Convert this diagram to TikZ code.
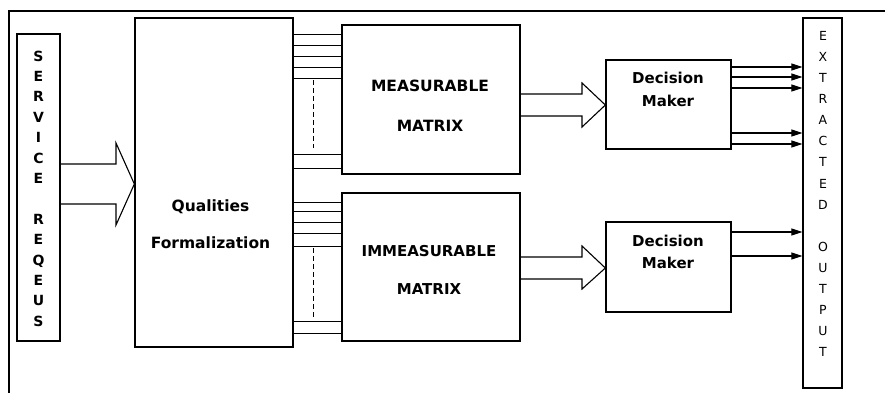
\documentclass[tikz,border=0pt]{standalone}
\usepackage{fontspec}
\setmainfont{DejaVu Sans}
\usetikzlibrary{arrows.meta}
\begin{document}
\begin{tikzpicture}[x=1pt,y=-1pt,
  box/.style={draw,line width=1.3pt,inner sep=0pt},
  wire/.style={draw,line width=1pt},
  blockarrow/.style={draw,line width=1.1pt,line join=miter},
  outarrow/.style={draw,line width=1.1pt,-{Triangle[length=11pt,width=7pt]}},
  frame/.style={draw,line width=1.3pt},
  bold/.style={inner sep=0pt,align=center},
]
\useasboundingbox (0,0) rectangle (885,392);
\clip (0,0) rectangle (885,392);
\fill[white] (0,0) rectangle (885,392);
% outer frame
\draw[frame] (9,400) -- (9,11) -- (900,11);

% boxes
\node[box,minimum width=43,minimum height=307] (svc) at (38.5,187.5) {};
\node[box,minimum width=158,minimum height=329] (qf) at (214,182.5) {};
\node[box,minimum width=178,minimum height=149] (mm) at (431,99.5) {};
\node[box,minimum width=178,minimum height=148] (im) at (431,267) {};
\node[box,minimum width=125,minimum height=89] (dm1) at (668.5,104.5) {};
\node[box,minimum width=125,minimum height=90] (dm2) at (668.5,267) {};
\node[box,minimum width=39,minimum height=370] (out) at (822.5,203) {};

% texts
\node[bold,font=\bfseries\fontsize{14}{20.4}\selectfont] (svctext) at (38.5,188.5)
  {S\\E\\R\\V\\I\\C\\E\\ \\R\\E\\Q\\E\\U\\S};
\node[bold,font=\bfseries\fontsize{15.5}{37}\selectfont] (qftext) at (210.5,224.5)
  {Qualities\\Formalization};
\node[bold,font=\bfseries\fontsize{15.5}{40}\selectfont] (mmtext) at (430,106)
  {MEASURABLE\\MATRIX};
\node[bold,font=\bfseries\fontsize{15}{38}\selectfont] (imtext) at (429,270)
  {IMMEASURABLE\\MATRIX};
\node[bold,font=\bfseries\fontsize{15}{23}\selectfont] (dm1text) at (668,89.5)
  {Decision\\Maker};
\node[bold,font=\bfseries\fontsize{15}{22}\selectfont] (dm2text) at (668,252)
  {Decision\\Maker};
\node[bold,font=\fontsize{12.5}{21.1}\selectfont] (outtext) at (823,194)
  {E\\X\\T\\R\\A\\C\\T\\E\\D\\ \\O\\U\\T\\P\\U\\T};

% block arrows
\draw[blockarrow] (svc.east |- 0,164) -- (116,164) -- (116,143) -- (qf.west |- 0,184)
  -- (116,225) -- (116,204) -- (svc.east |- 0,204);
\draw[blockarrow] (mm.east |- 0,94) -- (582,94) -- (582,83) -- (dm1.west |- 0,105)
  -- (582,127) -- (582,116) -- (mm.east |- 0,116);
\draw[blockarrow] (im.east |- 0,257) -- (582,257) -- (582,246) -- (dm2.west |- 0,268)
  -- (582,289) -- (582,279) -- (im.east |- 0,279);

% bus lines
\foreach \y in {34,45,56,67,78,154,168}
  \draw[wire] (qf.east |- 0,\y) -- (mm.west |- 0,\y);
\foreach \y in {202,211,222,233,246,321,333}
  \draw[wire] (qf.east |- 0,\y) -- (im.west |- 0,\y);
\coordinate (d1a) at (313,80);
\coordinate (d1b) at (313,148);
\coordinate (d2a) at (313,248);
\coordinate (d2b) at (313,317);
\draw[wire,dashed,dash pattern=on 5pt off 3pt] (d1a) -- (d1b);
\draw[wire,dashed,dash pattern=on 5pt off 3pt] (d2a) -- (d2b);

% output arrows
\foreach \y in {67,77,88,133,144}
  \draw[outarrow] (dm1.east |- 0,\y) -- (out.west |- 0,\y);
\foreach \y in {232,256}
  \draw[outarrow] (dm2.east |- 0,\y) -- (out.west |- 0,\y);
\end{tikzpicture}
\end{document}
